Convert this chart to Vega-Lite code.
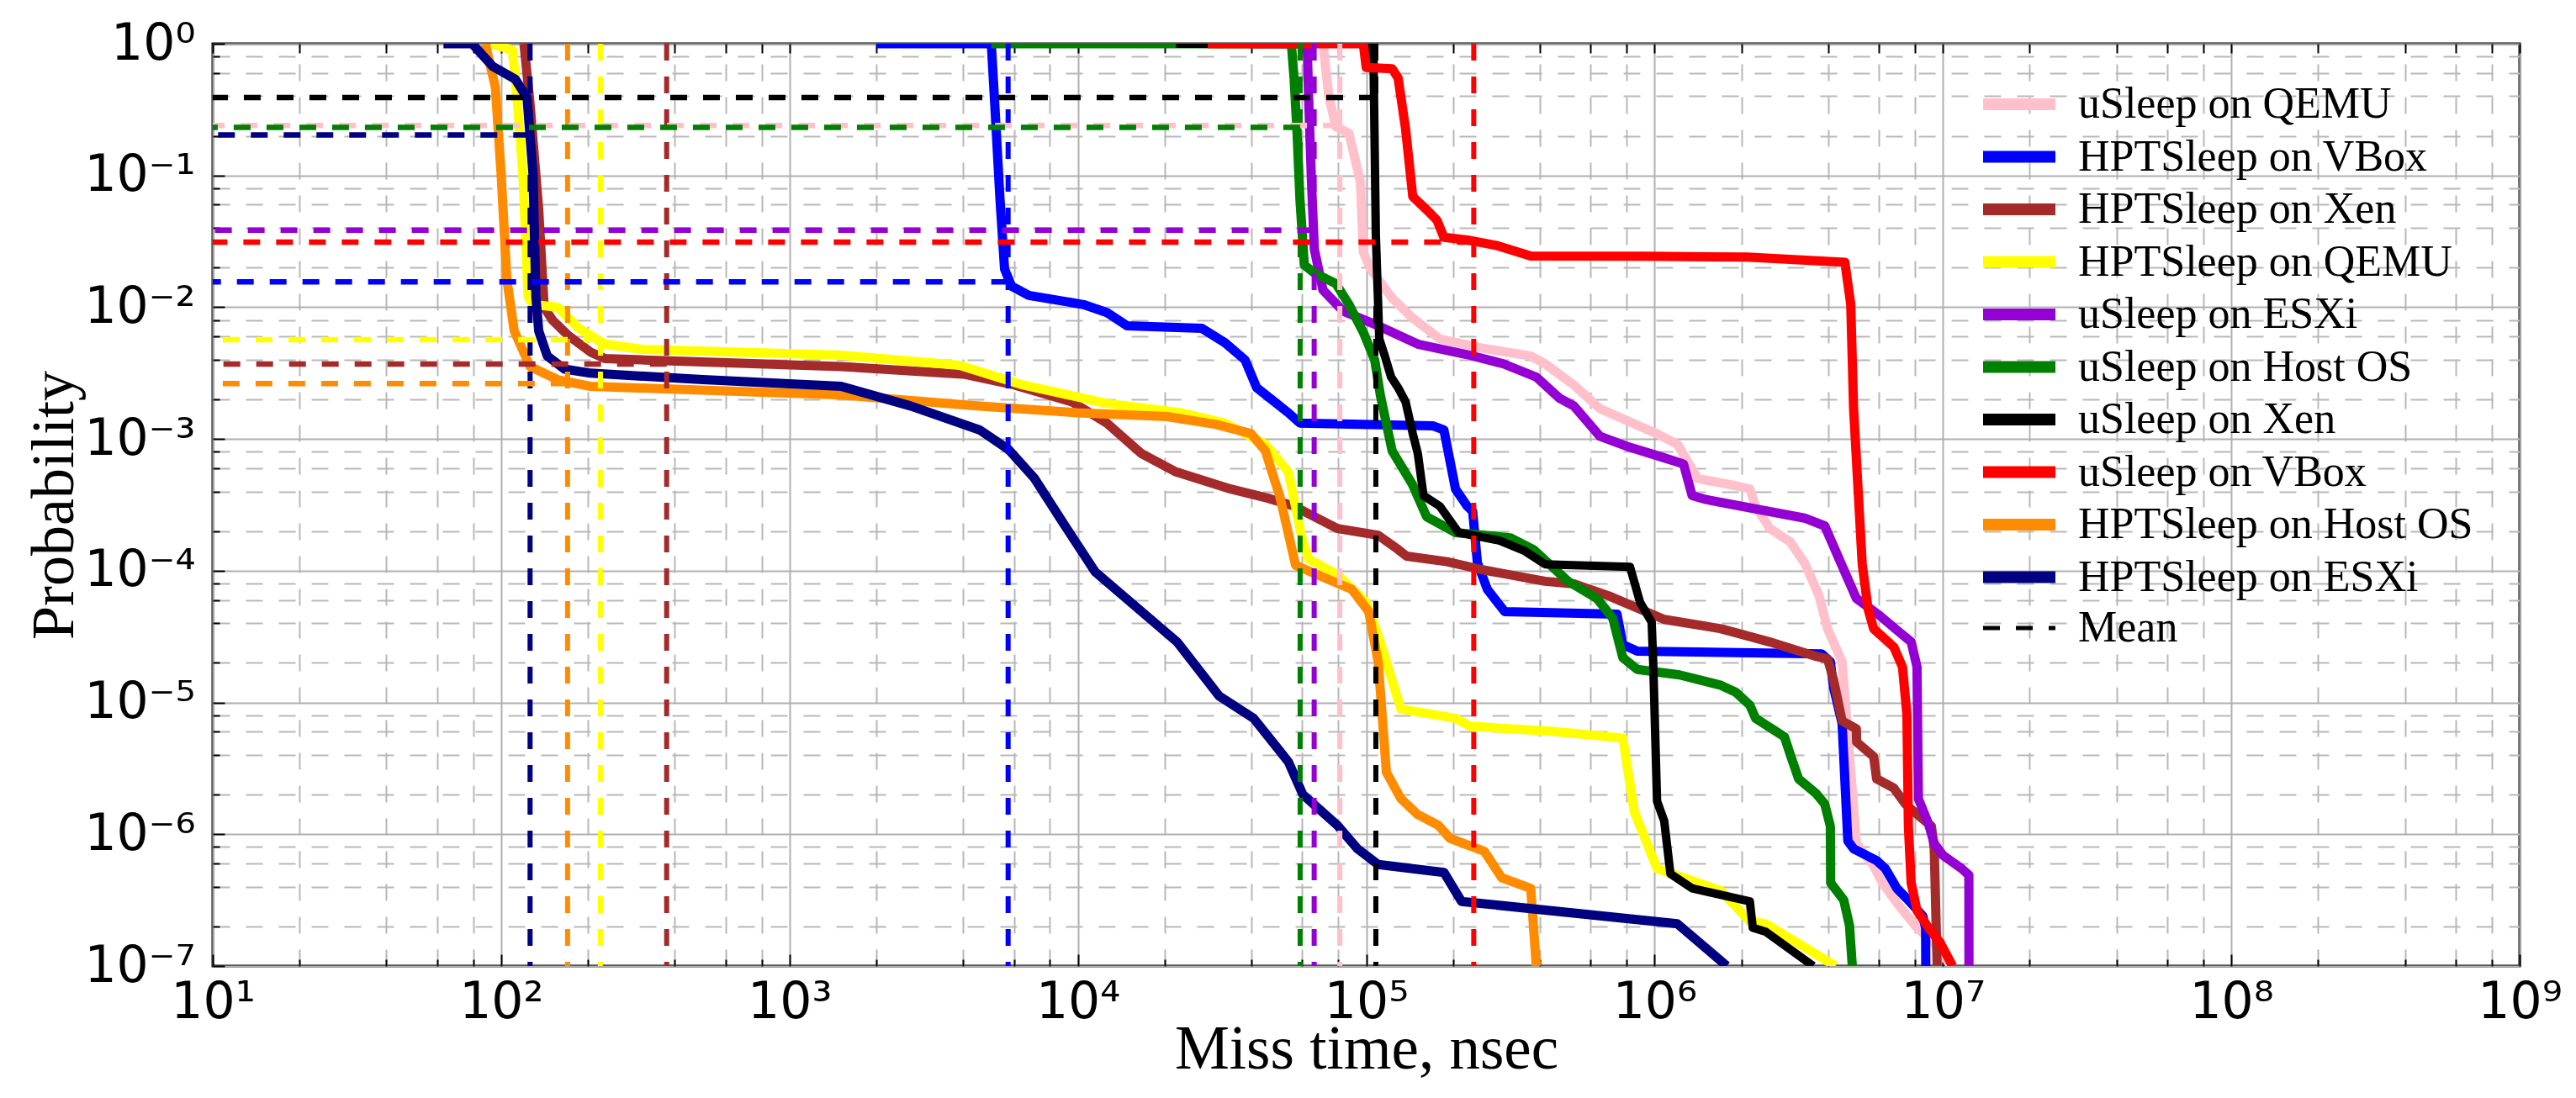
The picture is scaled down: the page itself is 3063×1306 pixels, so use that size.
{
  "$schema": "https://vega.github.io/schema/vega-lite/v6.json",
  "width": 2743,
  "height": 1097,
  "autosize": {"type": "none"},
  "padding": {"left": 253, "top": 52, "right": 67, "bottom": 157},
  "background": "white",
  "datasets": {
    "curves": [
      {"series": "uSleep on QEMU", "time": 5.01e4, "prob": 1},
      {"series": "uSleep on QEMU", "time": 7.08e4, "prob": 1},
      {"series": "uSleep on QEMU", "time": 7.41e4, "prob": 0.407},
      {"series": "uSleep on QEMU", "time": 7.85e4, "prob": 0.234},
      {"series": "uSleep on QEMU", "time": 8.71e4, "prob": 0.209},
      {"series": "uSleep on QEMU", "time": 9.55e4, "prob": 0.0891},
      {"series": "uSleep on QEMU", "time": 9.77e4, "prob": 0.0263},
      {"series": "uSleep on QEMU", "time": 1.035e5, "prob": 0.0195},
      {"series": "uSleep on QEMU", "time": 1.23e5, "prob": 0.01175},
      {"series": "uSleep on QEMU", "time": 1.445e5, "prob": 0.00832},
      {"series": "uSleep on QEMU", "time": 1.8e5, "prob": 0.00575},
      {"series": "uSleep on QEMU", "time": 2.51e5, "prob": 0.0049},
      {"series": "uSleep on QEMU", "time": 3.72e5, "prob": 0.00427},
      {"series": "uSleep on QEMU", "time": 4.17e5, "prob": 0.00372},
      {"series": "uSleep on QEMU", "time": 5.25e5, "prob": 0.00257},
      {"series": "uSleep on QEMU", "time": 6.46e5, "prob": 0.0017},
      {"series": "uSleep on QEMU", "time": 1.014e6, "prob": 0.0011},
      {"series": "uSleep on QEMU", "time": 1.2e6, "prob": 9.12e-4},
      {"series": "uSleep on QEMU", "time": 1.41e6, "prob": 5.01e-4},
      {"series": "uSleep on QEMU", "time": 1.86e6, "prob": 4.47e-4},
      {"series": "uSleep on QEMU", "time": 2.14e6, "prob": 4.17e-4},
      {"series": "uSleep on QEMU", "time": 2.24e6, "prob": 3.09e-4},
      {"series": "uSleep on QEMU", "time": 2.51e6, "prob": 2.09e-4},
      {"series": "uSleep on QEMU", "time": 2.95e6, "prob": 1.66e-4},
      {"series": "uSleep on QEMU", "time": 3.31e6, "prob": 1.15e-4},
      {"series": "uSleep on QEMU", "time": 3.72e6, "prob": 6.46e-5},
      {"series": "uSleep on QEMU", "time": 3.98e6, "prob": 3.63e-5},
      {"series": "uSleep on QEMU", "time": 4.47e6, "prob": 2.04e-5},
      {"series": "uSleep on QEMU", "time": 4.79e6, "prob": 3.02e-6},
      {"series": "uSleep on QEMU", "time": 5.01e6, "prob": 8.51e-7},
      {"series": "uSleep on QEMU", "time": 5.75e6, "prob": 5.75e-7},
      {"series": "uSleep on QEMU", "time": 6.17e6, "prob": 4.27e-7},
      {"series": "uSleep on QEMU", "time": 6.92e6, "prob": 3.02e-7},
      {"series": "uSleep on QEMU", "time": 8.13e6, "prob": 1.95e-7},
      {"series": "uSleep on QEMU", "time": 9.33e6, "prob": 1.48e-7},
      {"series": "uSleep on QEMU", "time": 1.07e7, "prob": 1e-7},

      {"series": "HPTSleep on VBox", "time": 2.0e3, "prob": 1},
      {"series": "HPTSleep on VBox", "time": 5.01e3, "prob": 1},
      {"series": "HPTSleep on VBox", "time": 5.13e3, "prob": 0.407},
      {"series": "HPTSleep on VBox", "time": 5.37e3, "prob": 0.0661},
      {"series": "HPTSleep on VBox", "time": 5.57e3, "prob": 0.0195},
      {"series": "HPTSleep on VBox", "time": 5.89e3, "prob": 0.01445},
      {"series": "HPTSleep on VBox", "time": 6.76e3, "prob": 0.0123},
      {"series": "HPTSleep on VBox", "time": 1.047e4, "prob": 0.01047},
      {"series": "HPTSleep on VBox", "time": 1.26e4, "prob": 0.00912},
      {"series": "HPTSleep on VBox", "time": 1.48e4, "prob": 0.00724},
      {"series": "HPTSleep on VBox", "time": 2.69e4, "prob": 0.00692},
      {"series": "HPTSleep on VBox", "time": 3.24e4, "prob": 0.00537},
      {"series": "HPTSleep on VBox", "time": 3.8e4, "prob": 0.00398},
      {"series": "HPTSleep on VBox", "time": 4.17e4, "prob": 0.00245},
      {"series": "HPTSleep on VBox", "time": 5.37e4, "prob": 0.00158},
      {"series": "HPTSleep on VBox", "time": 5.89e4, "prob": 0.00132},
      {"series": "HPTSleep on VBox", "time": 1.7e5, "prob": 0.00126},
      {"series": "HPTSleep on VBox", "time": 1.86e5, "prob": 0.00117},
      {"series": "HPTSleep on VBox", "time": 2.04e5, "prob": 4.17e-4},
      {"series": "HPTSleep on VBox", "time": 2.24e5, "prob": 3.09e-4},
      {"series": "HPTSleep on VBox", "time": 2.34e5, "prob": 2.82e-4},
      {"series": "HPTSleep on VBox", "time": 2.43e5, "prob": 1.15e-4},
      {"series": "HPTSleep on VBox", "time": 2.63e5, "prob": 7.24e-5},
      {"series": "HPTSleep on VBox", "time": 3.02e5, "prob": 4.9e-5},
      {"series": "HPTSleep on VBox", "time": 7.41e5, "prob": 4.68e-5},
      {"series": "HPTSleep on VBox", "time": 7.76e5, "prob": 2.75e-5},
      {"series": "HPTSleep on VBox", "time": 8.71e5, "prob": 2.45e-5},
      {"series": "HPTSleep on VBox", "time": 3.8e6, "prob": 2.34e-5},
      {"series": "HPTSleep on VBox", "time": 4.07e6, "prob": 2.04e-5},
      {"series": "HPTSleep on VBox", "time": 4.17e6, "prob": 1.32e-5},
      {"series": "HPTSleep on VBox", "time": 4.47e6, "prob": 6.92e-6},
      {"series": "HPTSleep on VBox", "time": 4.68e6, "prob": 8.91e-7},
      {"series": "HPTSleep on VBox", "time": 4.9e6, "prob": 7.76e-7},
      {"series": "HPTSleep on VBox", "time": 5.89e6, "prob": 6.31e-7},
      {"series": "HPTSleep on VBox", "time": 6.31e6, "prob": 5.5e-7},
      {"series": "HPTSleep on VBox", "time": 6.92e6, "prob": 3.89e-7},
      {"series": "HPTSleep on VBox", "time": 7.59e6, "prob": 3.16e-7},
      {"series": "HPTSleep on VBox", "time": 8.51e6, "prob": 2.4e-7},
      {"series": "HPTSleep on VBox", "time": 8.71e6, "prob": 1.95e-7},
      {"series": "HPTSleep on VBox", "time": 8.72e6, "prob": 1e-7},

      {"series": "HPTSleep on Xen", "time": 120, "prob": 1},
      {"series": "HPTSleep on Xen", "time": 126, "prob": 0.347},
      {"series": "HPTSleep on Xen", "time": 135, "prob": 0.055},
      {"series": "HPTSleep on Xen", "time": 141, "prob": 0.01},
      {"series": "HPTSleep on Xen", "time": 151, "prob": 0.00794},
      {"series": "HPTSleep on Xen", "time": 170, "prob": 0.00617},
      {"series": "HPTSleep on Xen", "time": 204, "prob": 0.00457},
      {"series": "HPTSleep on Xen", "time": 229, "prob": 0.00407},
      {"series": "HPTSleep on Xen", "time": 316, "prob": 0.00398},
      {"series": "HPTSleep on Xen", "time": 1510, "prob": 0.00355},
      {"series": "HPTSleep on Xen", "time": 4070, "prob": 0.00309},
      {"series": "HPTSleep on Xen", "time": 6030, "prob": 0.00257},
      {"series": "HPTSleep on Xen", "time": 9550, "prob": 0.00191},
      {"series": "HPTSleep on Xen", "time": 1.26e4, "prob": 0.00132},
      {"series": "HPTSleep on Xen", "time": 1.66e4, "prob": 7.76e-4},
      {"series": "HPTSleep on Xen", "time": 2.19e4, "prob": 5.62e-4},
      {"series": "HPTSleep on Xen", "time": 3.39e4, "prob": 4.17e-4},
      {"series": "HPTSleep on Xen", "time": 4.57e4, "prob": 3.55e-4},
      {"series": "HPTSleep on Xen", "time": 5.62e4, "prob": 3.09e-4},
      {"series": "HPTSleep on Xen", "time": 7.94e4, "prob": 2.09e-4},
      {"series": "HPTSleep on Xen", "time": 1.1e5, "prob": 1.86e-4},
      {"series": "HPTSleep on Xen", "time": 1.29e5, "prob": 1.45e-4},
      {"series": "HPTSleep on Xen", "time": 1.38e5, "prob": 1.29e-4},
      {"series": "HPTSleep on Xen", "time": 1.91e5, "prob": 1.17e-4},
      {"series": "HPTSleep on Xen", "time": 2.51e5, "prob": 1.02e-4},
      {"series": "HPTSleep on Xen", "time": 4.17e5, "prob": 8.32e-5},
      {"series": "HPTSleep on Xen", "time": 5.25e5, "prob": 7.94e-5},
      {"series": "HPTSleep on Xen", "time": 6.92e5, "prob": 6.46e-5},
      {"series": "HPTSleep on Xen", "time": 1.08e6, "prob": 4.27e-5},
      {"series": "HPTSleep on Xen", "time": 1.7e6, "prob": 3.63e-5},
      {"series": "HPTSleep on Xen", "time": 2.51e6, "prob": 2.88e-5},
      {"series": "HPTSleep on Xen", "time": 3.63e6, "prob": 2.24e-5},
      {"series": "HPTSleep on Xen", "time": 3.98e6, "prob": 2.14e-5},
      {"series": "HPTSleep on Xen", "time": 4.17e6, "prob": 1.51e-5},
      {"series": "HPTSleep on Xen", "time": 4.47e6, "prob": 7.24e-6},
      {"series": "HPTSleep on Xen", "time": 5.01e6, "prob": 6.31e-6},
      {"series": "HPTSleep on Xen", "time": 5.02e6, "prob": 5.01e-6},
      {"series": "HPTSleep on Xen", "time": 5.75e6, "prob": 3.89e-6},
      {"series": "HPTSleep on Xen", "time": 5.89e6, "prob": 2.63e-6},
      {"series": "HPTSleep on Xen", "time": 6.76e6, "prob": 2.24e-6},
      {"series": "HPTSleep on Xen", "time": 7.41e6, "prob": 1.7e-6},
      {"series": "HPTSleep on Xen", "time": 7.76e6, "prob": 1.55e-6},
      {"series": "HPTSleep on Xen", "time": 9.12e6, "prob": 1.15e-6},
      {"series": "HPTSleep on Xen", "time": 9.33e6, "prob": 7.76e-7},
      {"series": "HPTSleep on Xen", "time": 9.55e6, "prob": 1e-7},

      {"series": "HPTSleep on QEMU", "time": 92.3, "prob": 1},
      {"series": "HPTSleep on QEMU", "time": 109.6, "prob": 0.891},
      {"series": "HPTSleep on QEMU", "time": 114, "prob": 0.347},
      {"series": "HPTSleep on QEMU", "time": 119, "prob": 0.102},
      {"series": "HPTSleep on QEMU", "time": 124, "prob": 0.012},
      {"series": "HPTSleep on QEMU", "time": 129, "prob": 0.0105},
      {"series": "HPTSleep on QEMU", "time": 157, "prob": 0.01},
      {"series": "HPTSleep on QEMU", "time": 186, "prob": 0.00692},
      {"series": "HPTSleep on QEMU", "time": 229, "prob": 0.00525},
      {"series": "HPTSleep on QEMU", "time": 309, "prob": 0.00479},
      {"series": "HPTSleep on QEMU", "time": 1510, "prob": 0.00432},
      {"series": "HPTSleep on QEMU", "time": 3890, "prob": 0.00363},
      {"series": "HPTSleep on QEMU", "time": 6460, "prob": 0.00257},
      {"series": "HPTSleep on QEMU", "time": 1.26e4, "prob": 0.00186},
      {"series": "HPTSleep on QEMU", "time": 2.29e4, "prob": 0.00158},
      {"series": "HPTSleep on QEMU", "time": 3.24e4, "prob": 0.00132},
      {"series": "HPTSleep on QEMU", "time": 4.47e4, "prob": 9.12e-4},
      {"series": "HPTSleep on QEMU", "time": 5.37e4, "prob": 5.62e-4},
      {"series": "HPTSleep on QEMU", "time": 6.03e4, "prob": 1.66e-4},
      {"series": "HPTSleep on QEMU", "time": 6.31e4, "prob": 1.23e-4},
      {"series": "HPTSleep on QEMU", "time": 7.94e4, "prob": 9.33e-5},
      {"series": "HPTSleep on QEMU", "time": 1.0e5, "prob": 5.75e-5},
      {"series": "HPTSleep on QEMU", "time": 1.1e5, "prob": 3.24e-5},
      {"series": "HPTSleep on QEMU", "time": 1.32e5, "prob": 8.91e-6},
      {"series": "HPTSleep on QEMU", "time": 2.04e5, "prob": 7.59e-6},
      {"series": "HPTSleep on QEMU", "time": 2.29e5, "prob": 6.61e-6},
      {"series": "HPTSleep on QEMU", "time": 4.47e5, "prob": 6.03e-6},
      {"series": "HPTSleep on QEMU", "time": 7.76e5, "prob": 5.37e-6},
      {"series": "HPTSleep on QEMU", "time": 8.51e5, "prob": 1.48e-6},
      {"series": "HPTSleep on QEMU", "time": 1.02e6, "prob": 5.5e-7},
      {"series": "HPTSleep on QEMU", "time": 1.7e6, "prob": 3.72e-7},
      {"series": "HPTSleep on QEMU", "time": 2.14e6, "prob": 2.19e-7},
      {"series": "HPTSleep on QEMU", "time": 2.43e6, "prob": 2.09e-7},
      {"series": "HPTSleep on QEMU", "time": 4.24e6, "prob": 1e-7},

      {"series": "uSleep on ESXi", "time": 3.98e4, "prob": 1},
      {"series": "uSleep on ESXi", "time": 6.24e4, "prob": 1},
      {"series": "uSleep on ESXi", "time": 6.31e4, "prob": 0.407},
      {"series": "uSleep on ESXi", "time": 6.46e4, "prob": 0.0891},
      {"series": "uSleep on ESXi", "time": 6.61e4, "prob": 0.0275},
      {"series": "uSleep on ESXi", "time": 7.08e4, "prob": 0.0135},
      {"series": "uSleep on ESXi", "time": 8.32e4, "prob": 0.00933},
      {"series": "uSleep on ESXi", "time": 1.1e5, "prob": 0.00724},
      {"series": "uSleep on ESXi", "time": 1.51e5, "prob": 0.00525},
      {"series": "uSleep on ESXi", "time": 2.24e5, "prob": 0.00437},
      {"series": "uSleep on ESXi", "time": 2.99e5, "prob": 0.00372},
      {"series": "uSleep on ESXi", "time": 3.89e5, "prob": 0.00295},
      {"series": "uSleep on ESXi", "time": 4.68e5, "prob": 0.00204},
      {"series": "uSleep on ESXi", "time": 5.25e5, "prob": 0.00178},
      {"series": "uSleep on ESXi", "time": 6.46e5, "prob": 0.00105},
      {"series": "uSleep on ESXi", "time": 8.13e5, "prob": 8.71e-4},
      {"series": "uSleep on ESXi", "time": 1.07e6, "prob": 7.24e-4},
      {"series": "uSleep on ESXi", "time": 1.26e6, "prob": 6.46e-4},
      {"series": "uSleep on ESXi", "time": 1.35e6, "prob": 3.72e-4},
      {"series": "uSleep on ESXi", "time": 1.51e6, "prob": 3.47e-4},
      {"series": "uSleep on ESXi", "time": 3.31e6, "prob": 2.51e-4},
      {"series": "uSleep on ESXi", "time": 3.89e6, "prob": 2.19e-4},
      {"series": "uSleep on ESXi", "time": 4.57e6, "prob": 9.77e-5},
      {"series": "uSleep on ESXi", "time": 5.01e6, "prob": 6.17e-5},
      {"series": "uSleep on ESXi", "time": 6.03e6, "prob": 4.57e-5},
      {"series": "uSleep on ESXi", "time": 6.92e6, "prob": 3.55e-5},
      {"series": "uSleep on ESXi", "time": 7.76e6, "prob": 2.88e-5},
      {"series": "uSleep on ESXi", "time": 8.13e6, "prob": 1.86e-5},
      {"series": "uSleep on ESXi", "time": 8.22e6, "prob": 1.86e-6},
      {"series": "uSleep on ESXi", "time": 8.91e6, "prob": 1.2e-6},
      {"series": "uSleep on ESXi", "time": 9.33e6, "prob": 8.51e-7},
      {"series": "uSleep on ESXi", "time": 1.0e7, "prob": 6.92e-7},
      {"series": "uSleep on ESXi", "time": 1.16e7, "prob": 5.5e-7},
      {"series": "uSleep on ESXi", "time": 1.23e7, "prob": 4.9e-7},
      {"series": "uSleep on ESXi", "time": 1.231e7, "prob": 1e-7},

      {"series": "uSleep on Host OS", "time": 5.01e3, "prob": 1},
      {"series": "uSleep on Host OS", "time": 5.5e4, "prob": 1},
      {"series": "uSleep on Host OS", "time": 5.62e4, "prob": 0.55},
      {"series": "uSleep on Host OS", "time": 5.75e4, "prob": 0.224},
      {"series": "uSleep on Host OS", "time": 5.89e4, "prob": 0.0661},
      {"series": "uSleep on Host OS", "time": 6.1e4, "prob": 0.0209},
      {"series": "uSleep on Host OS", "time": 6.61e4, "prob": 0.0182},
      {"series": "uSleep on Host OS", "time": 7.85e4, "prob": 0.0151},
      {"series": "uSleep on Host OS", "time": 8.71e4, "prob": 0.0105},
      {"series": "uSleep on Host OS", "time": 9.77e4, "prob": 0.00646},
      {"series": "uSleep on Host OS", "time": 1.07e5, "prob": 0.00398},
      {"series": "uSleep on Host OS", "time": 1.12e5, "prob": 0.00214},
      {"series": "uSleep on Host OS", "time": 1.23e5, "prob": 8.13e-4},
      {"series": "uSleep on Host OS", "time": 1.45e5, "prob": 4.47e-4},
      {"series": "uSleep on Host OS", "time": 1.62e5, "prob": 2.57e-4},
      {"series": "uSleep on Host OS", "time": 2.04e5, "prob": 1.95e-4},
      {"series": "uSleep on Host OS", "time": 3.16e5, "prob": 1.78e-4},
      {"series": "uSleep on Host OS", "time": 3.8e5, "prob": 1.45e-4},
      {"series": "uSleep on Host OS", "time": 5.01e5, "prob": 8.32e-5},
      {"series": "uSleep on Host OS", "time": 6.31e5, "prob": 6.17e-5},
      {"series": "uSleep on Host OS", "time": 7.16e5, "prob": 4.37e-5},
      {"series": "uSleep on Host OS", "time": 7.76e5, "prob": 2.19e-5},
      {"series": "uSleep on Host OS", "time": 8.71e5, "prob": 1.78e-5},
      {"series": "uSleep on Host OS", "time": 1.22e6, "prob": 1.62e-5},
      {"series": "uSleep on Host OS", "time": 1.7e6, "prob": 1.35e-5},
      {"series": "uSleep on Host OS", "time": 1.91e6, "prob": 1.2e-5},
      {"series": "uSleep on Host OS", "time": 2.14e6, "prob": 9.55e-6},
      {"series": "uSleep on Host OS", "time": 2.24e6, "prob": 7.59e-6},
      {"series": "uSleep on Host OS", "time": 2.82e6, "prob": 5.5e-6},
      {"series": "uSleep on Host OS", "time": 2.95e6, "prob": 4.07e-6},
      {"series": "uSleep on Host OS", "time": 3.16e6, "prob": 2.63e-6},
      {"series": "uSleep on Host OS", "time": 3.63e6, "prob": 2.04e-6},
      {"series": "uSleep on Host OS", "time": 3.89e6, "prob": 1.7e-6},
      {"series": "uSleep on Host OS", "time": 4.07e6, "prob": 1.15e-6},
      {"series": "uSleep on Host OS", "time": 4.08e6, "prob": 4.27e-7},
      {"series": "uSleep on Host OS", "time": 4.53e6, "prob": 3.16e-7},
      {"series": "uSleep on Host OS", "time": 4.74e6, "prob": 2.04e-7},
      {"series": "uSleep on Host OS", "time": 4.85e6, "prob": 1e-7},

      {"series": "uSleep on Xen", "time": 2.19e4, "prob": 1},
      {"series": "uSleep on Xen", "time": 1.035e5, "prob": 1},
      {"series": "uSleep on Xen", "time": 1.06e5, "prob": 0.759},
      {"series": "uSleep on Xen", "time": 1.08e5, "prob": 0.0355},
      {"series": "uSleep on Xen", "time": 1.11e5, "prob": 0.00575},
      {"series": "uSleep on Xen", "time": 1.16e5, "prob": 0.00427},
      {"series": "uSleep on Xen", "time": 1.22e5, "prob": 0.00295},
      {"series": "uSleep on Xen", "time": 1.29e5, "prob": 0.00245},
      {"series": "uSleep on Xen", "time": 1.37e5, "prob": 0.00191},
      {"series": "uSleep on Xen", "time": 1.45e5, "prob": 0.0011},
      {"series": "uSleep on Xen", "time": 1.51e5, "prob": 7.76e-4},
      {"series": "uSleep on Xen", "time": 1.58e5, "prob": 3.72e-4},
      {"series": "uSleep on Xen", "time": 1.8e5, "prob": 3.09e-4},
      {"series": "uSleep on Xen", "time": 2.09e5, "prob": 1.95e-4},
      {"series": "uSleep on Xen", "time": 2.88e5, "prob": 1.7e-4},
      {"series": "uSleep on Xen", "time": 3.55e5, "prob": 1.41e-4},
      {"series": "uSleep on Xen", "time": 4.17e5, "prob": 1.12e-4},
      {"series": "uSleep on Xen", "time": 8.22e5, "prob": 1.07e-4},
      {"series": "uSleep on Xen", "time": 8.91e5, "prob": 5.75e-5},
      {"series": "uSleep on Xen", "time": 9.77e5, "prob": 4.07e-5},
      {"series": "uSleep on Xen", "time": 9.89e5, "prob": 2.04e-5},
      {"series": "uSleep on Xen", "time": 1.02e6, "prob": 1.78e-6},
      {"series": "uSleep on Xen", "time": 1.08e6, "prob": 1.26e-6},
      {"series": "uSleep on Xen", "time": 1.135e6, "prob": 5.01e-7},
      {"series": "uSleep on Xen", "time": 1.35e6, "prob": 3.89e-7},
      {"series": "uSleep on Xen", "time": 2.14e6, "prob": 3.09e-7},
      {"series": "uSleep on Xen", "time": 2.19e6, "prob": 1.95e-7},
      {"series": "uSleep on Xen", "time": 2.43e6, "prob": 1.82e-7},
      {"series": "uSleep on Xen", "time": 3.55e6, "prob": 1e-7},

      {"series": "uSleep on VBox", "time": 2.82e4, "prob": 1},
      {"series": "uSleep on VBox", "time": 9.77e4, "prob": 1},
      {"series": "uSleep on VBox", "time": 1.0e5, "prob": 0.661},
      {"series": "uSleep on VBox", "time": 1.23e5, "prob": 0.646},
      {"series": "uSleep on VBox", "time": 1.29e5, "prob": 0.55},
      {"series": "uSleep on VBox", "time": 1.37e5, "prob": 0.224},
      {"series": "uSleep on VBox", "time": 1.45e5, "prob": 0.0692},
      {"series": "uSleep on VBox", "time": 1.62e5, "prob": 0.055},
      {"series": "uSleep on VBox", "time": 1.76e5, "prob": 0.0457},
      {"series": "uSleep on VBox", "time": 1.86e5, "prob": 0.0339},
      {"series": "uSleep on VBox", "time": 2.24e5, "prob": 0.0324},
      {"series": "uSleep on VBox", "time": 2.82e5, "prob": 0.0295},
      {"series": "uSleep on VBox", "time": 3.72e5, "prob": 0.0245},
      {"series": "uSleep on VBox", "time": 9.12e5, "prob": 0.0244},
      {"series": "uSleep on VBox", "time": 2.09e6, "prob": 0.024},
      {"series": "uSleep on VBox", "time": 4.57e6, "prob": 0.0219},
      {"series": "uSleep on VBox", "time": 4.79e6, "prob": 0.0105},
      {"series": "uSleep on VBox", "time": 4.9e6, "prob": 0.0017},
      {"series": "uSleep on VBox", "time": 5.25e6, "prob": 1.12e-4},
      {"series": "uSleep on VBox", "time": 5.5e6, "prob": 5.13e-5},
      {"series": "uSleep on VBox", "time": 5.75e6, "prob": 3.63e-5},
      {"series": "uSleep on VBox", "time": 6.76e6, "prob": 2.63e-5},
      {"series": "uSleep on VBox", "time": 7.24e6, "prob": 1.86e-5},
      {"series": "uSleep on VBox", "time": 7.5e6, "prob": 8.13e-6},
      {"series": "uSleep on VBox", "time": 7.59e6, "prob": 1.15e-6},
      {"series": "uSleep on VBox", "time": 7.76e6, "prob": 4.27e-7},
      {"series": "uSleep on VBox", "time": 8.13e6, "prob": 2.63e-7},
      {"series": "uSleep on VBox", "time": 8.91e6, "prob": 1.95e-7},
      {"series": "uSleep on VBox", "time": 9.77e6, "prob": 1.51e-7},
      {"series": "uSleep on VBox", "time": 1.08e7, "prob": 1e-7},

      {"series": "HPTSleep on Host OS", "time": 88.1, "prob": 1},
      {"series": "HPTSleep on Host OS", "time": 95.5, "prob": 0.468},
      {"series": "HPTSleep on Host OS", "time": 100, "prob": 0.102},
      {"series": "HPTSleep on Host OS", "time": 104.7, "prob": 0.0162},
      {"series": "HPTSleep on Host OS", "time": 111, "prob": 0.00661},
      {"series": "HPTSleep on Host OS", "time": 126, "prob": 0.00355},
      {"series": "HPTSleep on Host OS", "time": 157, "prob": 0.00282},
      {"series": "HPTSleep on Host OS", "time": 204, "prob": 0.00251},
      {"series": "HPTSleep on Host OS", "time": 1510, "prob": 0.00216},
      {"series": "HPTSleep on Host OS", "time": 4570, "prob": 0.00178},
      {"series": "HPTSleep on Host OS", "time": 1.0e4, "prob": 0.00158},
      {"series": "HPTSleep on Host OS", "time": 2.04e4, "prob": 0.00148},
      {"series": "HPTSleep on Host OS", "time": 3.02e4, "prob": 0.00129},
      {"series": "HPTSleep on Host OS", "time": 3.98e4, "prob": 0.0011},
      {"series": "HPTSleep on Host OS", "time": 4.47e4, "prob": 8.13e-4},
      {"series": "HPTSleep on Host OS", "time": 4.79e4, "prob": 5.01e-4},
      {"series": "HPTSleep on Host OS", "time": 5.01e4, "prob": 3.72e-4},
      {"series": "HPTSleep on Host OS", "time": 5.69e4, "prob": 1.1e-4},
      {"series": "HPTSleep on Host OS", "time": 6.76e4, "prob": 9.33e-5},
      {"series": "HPTSleep on Host OS", "time": 8.91e4, "prob": 7.24e-5},
      {"series": "HPTSleep on Host OS", "time": 1.02e5, "prob": 4.9e-5},
      {"series": "HPTSleep on Host OS", "time": 1.1e5, "prob": 2.04e-5},
      {"series": "HPTSleep on Host OS", "time": 1.175e5, "prob": 2.95e-6},
      {"series": "HPTSleep on Host OS", "time": 1.32e5, "prob": 1.86e-6},
      {"series": "HPTSleep on Host OS", "time": 1.51e5, "prob": 1.41e-6},
      {"series": "HPTSleep on Host OS", "time": 1.78e5, "prob": 1.17e-6},
      {"series": "HPTSleep on Host OS", "time": 1.95e5, "prob": 9.33e-7},
      {"series": "HPTSleep on Host OS", "time": 2.57e5, "prob": 7.41e-7},
      {"series": "HPTSleep on Host OS", "time": 2.95e5, "prob": 4.68e-7},
      {"series": "HPTSleep on Host OS", "time": 3.72e5, "prob": 3.89e-7},
      {"series": "HPTSleep on Host OS", "time": 3.89e5, "prob": 1e-7},

      {"series": "HPTSleep on ESXi", "time": 63.1, "prob": 1},
      {"series": "HPTSleep on ESXi", "time": 79.4, "prob": 1},
      {"series": "HPTSleep on ESXi", "time": 93.3, "prob": 0.676},
      {"series": "HPTSleep on ESXi", "time": 112, "prob": 0.537},
      {"series": "HPTSleep on ESXi", "time": 123, "prob": 0.389},
      {"series": "HPTSleep on ESXi", "time": 129, "prob": 0.102},
      {"series": "HPTSleep on ESXi", "time": 132, "prob": 0.012},
      {"series": "HPTSleep on ESXi", "time": 135, "prob": 0.00661},
      {"series": "HPTSleep on ESXi", "time": 144.5, "prob": 0.00427},
      {"series": "HPTSleep on ESXi", "time": 166, "prob": 0.00339},
      {"series": "HPTSleep on ESXi", "time": 204, "prob": 0.00316},
      {"series": "HPTSleep on ESXi", "time": 501, "prob": 0.00282},
      {"series": "HPTSleep on ESXi", "time": 1510, "prob": 0.00251},
      {"series": "HPTSleep on ESXi", "time": 2630, "prob": 0.00178},
      {"series": "HPTSleep on ESXi", "time": 4570, "prob": 0.00117},
      {"series": "HPTSleep on ESXi", "time": 5750, "prob": 8.32e-4},
      {"series": "HPTSleep on ESXi", "time": 7080, "prob": 5.01e-4},
      {"series": "HPTSleep on ESXi", "time": 8910, "prob": 2.29e-4},
      {"series": "HPTSleep on ESXi", "time": 1.15e4, "prob": 9.77e-5},
      {"series": "HPTSleep on ESXi", "time": 2.21e4, "prob": 2.88e-5},
      {"series": "HPTSleep on ESXi", "time": 3.09e4, "prob": 1.12e-5},
      {"series": "HPTSleep on ESXi", "time": 4.07e4, "prob": 7.59e-6},
      {"series": "HPTSleep on ESXi", "time": 5.37e4, "prob": 3.55e-6},
      {"series": "HPTSleep on ESXi", "time": 6.03e4, "prob": 2.0e-6},
      {"series": "HPTSleep on ESXi", "time": 7.94e4, "prob": 1.17e-6},
      {"series": "HPTSleep on ESXi", "time": 9.33e4, "prob": 7.76e-7},
      {"series": "HPTSleep on ESXi", "time": 1.1e5, "prob": 5.89e-7},
      {"series": "HPTSleep on ESXi", "time": 1.86e5, "prob": 5.13e-7},
      {"series": "HPTSleep on ESXi", "time": 2.14e5, "prob": 3.09e-7},
      {"series": "HPTSleep on ESXi", "time": 1.2e6, "prob": 2.09e-7},
      {"series": "HPTSleep on ESXi", "time": 1.78e6, "prob": 1e-7}
    ],
    "means": [
      {"series": "uSleep on QEMU", "kind": "Mean", "mean_time": 8.1e4, "mean_prob": 0.24},
      {"series": "HPTSleep on VBox", "kind": "Mean", "mean_time": 5730, "mean_prob": 0.0156},
      {"series": "HPTSleep on Xen", "kind": "Mean", "mean_time": 375, "mean_prob": 0.0037},
      {"series": "HPTSleep on QEMU", "kind": "Mean", "mean_time": 221, "mean_prob": 0.00568},
      {"series": "uSleep on ESXi", "kind": "Mean", "mean_time": 6.6e4, "mean_prob": 0.0384},
      {"series": "uSleep on Host OS", "kind": "Mean", "mean_time": 5.9e4, "mean_prob": 0.232},
      {"series": "uSleep on Xen", "kind": "Mean", "mean_time": 1.08e5, "mean_prob": 0.39},
      {"series": "uSleep on VBox", "kind": "Mean", "mean_time": 2.36e5, "mean_prob": 0.0312},
      {"series": "HPTSleep on Host OS", "kind": "Mean", "mean_time": 170, "mean_prob": 0.00263},
      {"series": "HPTSleep on ESXi", "kind": "Mean", "mean_time": 126, "mean_prob": 0.203}
    ]
  },
  "layer": [
    {
      "data": {"name": "curves"},
      "encoding": {
        "x": {
          "field": "time",
          "type": "quantitative",
          "scale": {"type": "log", "domain": [10, 1e9], "nice": false},
          "axis": {
            "orient": "bottom",
            "values": [10, 100, 1000, 1e4, 1e5, 1e6, 1e7, 1e8, 1e9],
            "grid": true,
            "gridColor": "#b0b0b0",
            "gridWidth": 2,
            "domain": false,
            "tickSize": -14,
            "tickColor": "black",
            "tickWidth": 2,
            "labelExpr": "'10' + ['⁰','¹','²','³','⁴','⁵','⁶','⁷','⁸','⁹'][round(log(datum.value)/LN10)]",
            "labelFont": "DejaVu Sans",
            "labelFontSize": 60,
            "labelColor": "black",
            "labelPadding": 28,
            "labelBaseline": "top",
            "labelFlush": false,
            "labelOverlap": false,
            "title": "Miss time, nsec",
            "titleFont": "Liberation Serif",
            "titleFontSize": 73,
            "titleFontWeight": "normal",
            "titleColor": "black",
            "titleX": 1371.5,
            "titleY": 121,
            "titleAlign": "center",
            "titleBaseline": "alphabetic"
          }
        },
        "y": {
          "field": "prob",
          "type": "quantitative",
          "scale": {"type": "log", "domain": [1e-7, 1], "nice": false},
          "axis": {
            "orient": "left",
            "values": [1e-7, 1e-6, 1e-5, 1e-4, 0.001, 0.01, 0.1, 1],
            "grid": true,
            "gridColor": "#b0b0b0",
            "gridWidth": 2,
            "domain": false,
            "tickSize": -14,
            "tickColor": "black",
            "tickWidth": 2,
            "labelExpr": "'10' + (datum.value < 0.5 ? '⁻' : '') + ['⁰','¹','²','³','⁴','⁵','⁶','⁷','⁸','⁹'][abs(round(log(datum.value)/LN10))]",
            "labelFont": "DejaVu Sans",
            "labelFontSize": 60,
            "labelColor": "black",
            "labelPadding": 35,
            "labelBaseline": "middle",
            "labelFlush": false,
            "labelOverlap": false,
            "title": "Probability",
            "titleFont": "Liberation Serif",
            "titleFontSize": 72,
            "titleFontWeight": "normal",
            "titleColor": "black",
            "titleAngle": -90,
            "titleX": -167,
            "titleY": 548.5,
            "titleAlign": "center",
            "titleBaseline": "alphabetic"
          }
        },
        "color": {
          "field": "series",
          "type": "nominal",
          "scale": {
            "domain": ["uSleep on QEMU", "HPTSleep on VBox", "HPTSleep on Xen", "HPTSleep on QEMU", "uSleep on ESXi", "uSleep on Host OS", "uSleep on Xen", "uSleep on VBox", "HPTSleep on Host OS", "HPTSleep on ESXi"],
            "range": ["#FFC0CB", "#0000FF", "#A52A2A", "#FFFF00", "#9400D3", "#008000", "#000000", "#FF0000", "#FF8C00", "#000080"]
          },
          "legend": {
            "title": null,
            "orient": "none",
            "legendX": 2122,
            "legendY": 46,
            "padding": 0,
            "symbolType": "M-3,0H3",
            "symbolSize": 822,
            "symbolStrokeWidth": 14,
            "labelFont": "Liberation Serif",
            "labelFontSize": 52,
            "labelColor": "black",
            "labelOffset": 44,
            "labelLimit": 0,
            "rowPadding": 6.5
          }
        }
      },
      "layer": [
        {"transform": [{"filter": "datum.series === 'uSleep on QEMU'"}], "mark": {"type": "line", "strokeWidth": 11, "strokeJoin": "round", "clip": true}},
        {"transform": [{"filter": "datum.series === 'HPTSleep on VBox'"}], "mark": {"type": "line", "strokeWidth": 11, "strokeJoin": "round", "clip": true}},
        {"transform": [{"filter": "datum.series === 'HPTSleep on Xen'"}], "mark": {"type": "line", "strokeWidth": 11, "strokeJoin": "round", "clip": true}},
        {"transform": [{"filter": "datum.series === 'HPTSleep on QEMU'"}], "mark": {"type": "line", "strokeWidth": 11, "strokeJoin": "round", "clip": true}},
        {"transform": [{"filter": "datum.series === 'uSleep on ESXi'"}], "mark": {"type": "line", "strokeWidth": 11, "strokeJoin": "round", "clip": true}},
        {"transform": [{"filter": "datum.series === 'uSleep on Host OS'"}], "mark": {"type": "line", "strokeWidth": 11, "strokeJoin": "round", "clip": true}},
        {"transform": [{"filter": "datum.series === 'uSleep on Xen'"}], "mark": {"type": "line", "strokeWidth": 10, "strokeJoin": "round", "clip": true}},
        {"transform": [{"filter": "datum.series === 'uSleep on VBox'"}], "mark": {"type": "line", "strokeWidth": 11, "strokeJoin": "round", "clip": true}},
        {"transform": [{"filter": "datum.series === 'HPTSleep on Host OS'"}], "mark": {"type": "line", "strokeWidth": 11, "strokeJoin": "round", "clip": true}},
        {"transform": [{"filter": "datum.series === 'HPTSleep on ESXi'"}], "mark": {"type": "line", "strokeWidth": 11, "strokeJoin": "round", "clip": true}}
      ]
    },
    {
      "data": {"name": "means"},
      "mark": {"type": "rule", "strokeWidth": 6, "strokeDash": [20, 19], "clip": true},
      "encoding": {
        "x": {
          "field": "mean_time",
          "type": "quantitative",
          "scale": {"type": "log", "domain": [10, 1e9], "nice": false},
          "axis": {
            "orient": "bottom",
            "values": [20, 40, 60, 80, 200, 400, 600, 800, 2000, 4000, 6000, 8000, 2e4, 4e4, 6e4, 8e4, 2e5, 4e5, 6e5, 8e5, 2e6, 4e6, 6e6, 8e6, 2e7, 4e7, 6e7, 8e7, 2e8, 4e8, 6e8, 8e8],
            "grid": true,
            "gridColor": "#b8b8b8",
            "gridWidth": 2,
            "gridDash": [20, 19],
            "domain": false,
            "labels": false,
            "tickSize": -8,
            "tickColor": "black",
            "tickWidth": 2,
            "title": null
          }
        },
        "color": {"field": "series", "type": "nominal", "legend": null}
      }
    },
    {
      "data": {"name": "means"},
      "mark": {"type": "rule", "strokeWidth": 6.5, "clip": true},
      "encoding": {
        "x": {
          "field": "mean_time",
          "type": "quantitative",
          "scale": {"type": "log", "domain": [10, 1e9], "nice": false},
          "axis": {
            "orient": "top",
            "values": [10, 20, 40, 60, 80, 100, 200, 400, 600, 800, 1000, 2000, 4000, 6000, 8000, 1e4, 2e4, 4e4, 6e4, 8e4, 1e5, 2e5, 4e5, 6e5, 8e5, 1e6, 2e6, 4e6, 6e6, 8e6, 1e7, 2e7, 4e7, 6e7, 8e7, 1e8, 2e8, 4e8, 6e8, 8e8, 1e9],
            "grid": false,
            "domain": false,
            "labels": false,
            "tickSize": -11,
            "tickColor": "black",
            "tickWidth": 2,
            "title": null
          }
        },
        "x2": {"datum": 10},
        "y": {
          "field": "mean_prob",
          "type": "quantitative",
          "scale": {"type": "log", "domain": [1e-7, 1], "nice": false},
          "axis": {
            "orient": "left",
            "values": [2e-7, 4e-7, 6e-7, 8e-7, 2e-6, 4e-6, 6e-6, 8e-6, 2e-5, 4e-5, 6e-5, 8e-5, 2e-4, 4e-4, 6e-4, 8e-4, 0.002, 0.004, 0.006, 0.008, 0.02, 0.04, 0.06, 0.08, 0.2, 0.4, 0.6, 0.8],
            "grid": true,
            "gridColor": "#b8b8b8",
            "gridWidth": 2,
            "gridDash": [20, 19],
            "domain": false,
            "labels": false,
            "tickSize": -8,
            "tickColor": "black",
            "tickWidth": 2,
            "title": null
          }
        },
        "color": {"field": "series", "type": "nominal", "legend": null},
        "strokeDash": {
          "field": "kind",
          "type": "nominal",
          "scale": {"domain": ["Mean"], "range": [[20, 19]]},
          "legend": {
            "title": null,
            "orient": "none",
            "legendX": 2122,
            "legendY": 669,
            "padding": 0,
            "symbolType": "M-3,0H3",
            "symbolSize": 822,
            "symbolStrokeWidth": 5,
            "symbolStrokeColor": "black",
            "labelFont": "Liberation Serif",
            "labelFontSize": 52,
            "labelColor": "black",
            "labelOffset": 44,
            "labelLimit": 0
          }
        }
      }
    }
  ],
  "resolve": {"axis": {"x": "independent", "y": "independent"}},
  "config": {
    "view": {"stroke": "black", "strokeWidth": 3}
  }
}
